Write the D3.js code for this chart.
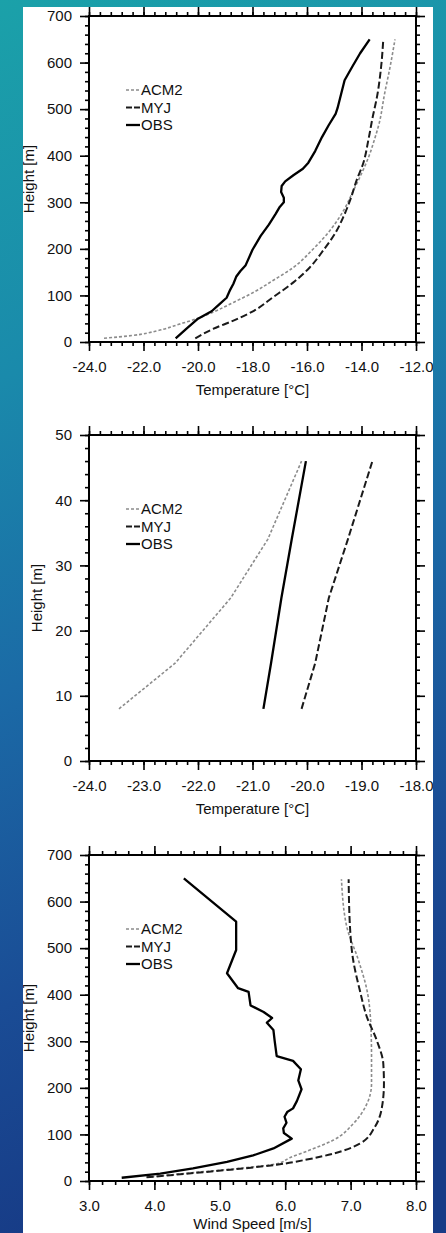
<!DOCTYPE html>
<html>
<head>
<meta charset="utf-8">
<script src="https://cdn.jsdelivr.net/npm/d3@7/dist/d3.min.js"></script>
<style>
    html, body { margin: 0; padding: 0; }
    body { width: 446px; height: 1233px; overflow: hidden; }
    svg text { font-family: "Liberation Sans", Arial, Helvetica, sans-serif; fill: #111; }
</style>
</head>
<body>
<div id="chart"></div>
<script>
// legend entries, same order in every panel
const seriesNames = ['ACM2', 'MYJ', 'OBS'];

// panel 1: temperature profile up to 700 m, [temperature °C, height m]
const tempAcm2 = [[-23.45, 8], [-22.4, 14], [-21.5, 24], [-20.7, 38], [-20.05, 50], [-19.45, 64],
    [-18.7, 85], [-17.95, 107], [-17.25, 132], [-16.5, 160], [-15.8, 198], [-15.15, 240],
    [-14.65, 283], [-14.3, 325], [-13.95, 368], [-13.72, 400], [-13.55, 430], [-13.35, 470],
    [-13.15, 534], [-12.95, 591], [-12.77, 650]];
const tempMyj = [[-20.1, 8], [-19.45, 28], [-18.7, 46], [-17.95, 67], [-17.25, 96], [-16.5, 128],
    [-15.9, 160], [-15.4, 197], [-14.97, 233], [-14.67, 268], [-14.42, 304], [-14.18, 347],
    [-13.93, 385], [-13.75, 433], [-13.6, 480], [-13.42, 530], [-13.28, 591], [-13.2, 650]];
const tempObs = [[-20.82, 8], [-20.4, 30], [-20.0, 50], [-19.5, 66], [-19.2, 82], [-18.95, 95],
    [-18.82, 112], [-18.7, 125], [-18.6, 140], [-18.45, 152], [-18.25, 165], [-18.0, 198],
    [-17.7, 228], [-17.4, 252], [-17.15, 275], [-17.0, 290], [-16.85, 300], [-16.85, 310],
    [-16.95, 322], [-16.93, 335], [-16.8, 345], [-16.5, 358], [-16.15, 372], [-15.95, 385],
    [-15.7, 410], [-15.45, 440], [-15.2, 466], [-14.95, 490], [-14.88, 502], [-14.75, 532],
    [-14.62, 562], [-14.35, 590], [-14.05, 620], [-13.7, 650]];

// panel 2: temperature in the lowest 50 m
const lowAcm2 = [[-23.45, 8], [-22.42, 15], [-21.4, 25], [-20.72, 34], [-20.1, 46]];
const lowMyj = [[-20.1, 8], [-19.85, 15], [-19.6, 25], [-19.25, 34], [-18.8, 46]];
const lowObs = [[-20.8, 8], [-20.66, 15], [-20.47, 25], [-20.28, 34], [-20.02, 46]];

// panel 3: wind speed profile, [m/s, height m]
const windAcm2 = [[3.88, 8], [4.6, 18], [5.36, 28], [5.87, 37], [6.07, 50], [6.35, 65], [6.74, 88],
    [7.04, 123], [7.25, 166], [7.32, 209], [7.32, 267], [7.31, 333], [7.25, 410], [7.12, 474],
    [6.94, 547], [6.86, 648]];
const windMyj = [[3.88, 8], [4.6, 17], [5.36, 27], [5.87, 35], [6.33, 46], [6.74, 59], [7.14, 80],
    [7.37, 116], [7.48, 159], [7.51, 209], [7.5, 252], [7.4, 302], [7.25, 352], [7.14, 410],
    [7.04, 474], [6.99, 547], [6.97, 648]];
const windObs = [[3.5, 7], [4.09, 16], [4.59, 27], [5.11, 41], [5.51, 55], [5.82, 70], [6.1, 91],
    [5.98, 103], [5.97, 113], [6.02, 125], [5.99, 138], [6.03, 148], [6.12, 156], [6.18, 172],
    [6.25, 197], [6.2, 216], [6.24, 240], [6.12, 258], [5.87, 268], [5.84, 300], [5.82, 324],
    [5.72, 340], [5.8, 350], [5.67, 363], [5.47, 377], [5.44, 406], [5.28, 414], [5.11, 446],
    [5.25, 496], [5.25, 557], [4.45, 650]];

// axis ticks
const tempTicks = [-24, -22, -20, -18, -16, -14, -12];
const lowTempTicks = [-24, -23, -22, -21, -20, -19, -18];
const windTicks = [3, 4, 5, 6, 7, 8];
const heightTicks = [0, 100, 200, 300, 400, 500, 600, 700];
const lowHeightTicks = [0, 10, 20, 30, 40, 50];

const W = 446, H = 1233;
const page = { left: 23, top: 7, right: 433 };
const box = { left: 89, right: 416, height: 326 };

const styles = {
    ACM2: { stroke: '#8c8c8c', width: 1.6, dash: '3,2' },
    MYJ: { stroke: '#1a1a1a', width: 2, dash: '7,3' },
    OBS: { stroke: '#000', width: 2.3, dash: null }
};

const svg = d3.select('#chart').append('svg')
    .attr('width', W)
    .attr('height', H);

const defs = svg.append('defs');
const grad = defs.append('linearGradient')
    .attr('id', 'bg')
    .attr('x1', 0).attr('y1', 0).attr('x2', 0.15).attr('y2', 1);
[['0', '#1ba1a9'], ['0.3', '#1a8aab'], ['0.55', '#1b6aa6'], ['0.8', '#1a4c95'], ['1', '#173b86']]
    .forEach(s => grad.append('stop').attr('offset', s[0]).attr('stop-color', s[1]));

defs.append('clipPath').attr('id', 'page')
    .append('rect')
    .attr('x', page.left).attr('y', page.top)
    .attr('width', page.right - page.left).attr('height', H - page.top);

svg.append('rect').attr('width', W).attr('height', H).attr('fill', 'url(#bg)');

const sheet = svg.append('g').attr('clip-path', 'url(#page)');
sheet.append('rect')
    .attr('x', page.left).attr('y', page.top)
    .attr('width', page.right - page.left).attr('height', H - page.top)
    .attr('fill', '#fff');

function minorTicks(domain, step) {
    const out = [];
    const n = Math.round((domain[1] - domain[0]) / step);
    for (let i = 0; i <= n; i++) out.push(domain[0] + i * step);
    return out;
}

function styleAxis(g) {
    g.select('.domain').remove();
    g.selectAll('.tick line').attr('stroke', '#000').attr('stroke-width', 1.6);
    g.selectAll('.tick text').attr('font-size', 15).attr('fill', '#111');
}

function drawPanel(opts) {
    const top = opts.top;
    const bottom = top + box.height;
    const x = d3.scaleLinear().domain(opts.xDomain).range([box.left, box.right]);
    const y = d3.scaleLinear().domain(opts.yDomain).range([bottom, top]);
    const fmt = d => d.toFixed(1);

    const g = sheet.append('g');

    // minor ticks on all four sides
    const xMinor = minorTicks(opts.xDomain, opts.xMinor);
    const yMinor = minorTicks(opts.yDomain, opts.yMinor);
    g.append('g').attr('transform', `translate(0,${bottom})`)
        .call(d3.axisBottom(x).tickValues(xMinor).tickSize(4).tickFormat('')).call(styleAxis);
    g.append('g').attr('transform', `translate(0,${top})`)
        .call(d3.axisTop(x).tickValues(xMinor).tickSize(4).tickFormat('')).call(styleAxis);
    g.append('g').attr('transform', `translate(${box.left},0)`)
        .call(d3.axisLeft(y).tickValues(yMinor).tickSize(4).tickFormat('')).call(styleAxis);
    g.append('g').attr('transform', `translate(${box.right},0)`)
        .call(d3.axisRight(y).tickValues(yMinor).tickSize(4).tickFormat('')).call(styleAxis);

    // major ticks and labels
    g.append('g').attr('transform', `translate(0,${bottom})`)
        .call(d3.axisBottom(x).tickValues(opts.xTicks).tickSize(9).tickPadding(10).tickFormat(fmt))
        .call(styleAxis);
    g.append('g').attr('transform', `translate(0,${top})`)
        .call(d3.axisTop(x).tickValues(opts.xTicks).tickSize(9).tickFormat(''))
        .call(styleAxis);
    g.append('g').attr('transform', `translate(${box.left},0)`)
        .call(d3.axisLeft(y).tickValues(opts.yTicks).tickSize(9).tickPadding(8))
        .call(styleAxis);
    g.append('g').attr('transform', `translate(${box.right},0)`)
        .call(d3.axisRight(y).tickValues(opts.yTicks).tickSize(9).tickFormat(''))
        .call(styleAxis);

    // frame
    g.append('rect')
        .attr('x', box.left).attr('y', top)
        .attr('width', box.right - box.left).attr('height', box.height)
        .attr('fill', 'none')
        .attr('stroke', '#000')
        .attr('stroke-width', 2);

    // axis titles
    g.append('text')
        .attr('x', (box.left + box.right) / 2)
        .attr('y', bottom + opts.titleGap)
        .attr('text-anchor', 'middle')
        .attr('font-size', 15)
        .text(opts.xTitle);

    g.append('text')
        .attr('transform', `translate(${opts.yTitleX},${(top + bottom) / 2}) rotate(-90)`)
        .attr('text-anchor', 'middle')
        .attr('dy', '0.36em')
        .attr('font-size', 15)
        .text('Height [m]');

    // profiles
    const line = d3.line()
        .x(d => x(d[0]))
        .y(d => y(d[1]))
        .curve(opts.curve);
    const modelLine = d3.line()
        .x(d => x(d[0]))
        .y(d => y(d[1]))
        .curve(opts.modelCurve);

    seriesNames.forEach((name, i) => {
        const s = styles[name];
        g.append('path')
            .datum(opts.data[i])
            .attr('fill', 'none')
            .attr('stroke', s.stroke)
            .attr('stroke-width', s.width)
            .attr('stroke-dasharray', s.dash)
            .attr('stroke-linejoin', 'round')
            .attr('d', name === 'OBS' ? line : modelLine);
    });

    // legend
    const legend = g.append('g').attr('transform', `translate(${box.left + 37},${top + 74})`);
    seriesNames.forEach((name, i) => {
        const s = styles[name];
        const row = legend.append('g').attr('transform', `translate(0,${i * 17.5})`);
        row.append('line')
            .attr('x1', 0).attr('x2', 14)
            .attr('stroke', s.stroke)
            .attr('stroke-width', s.width)
            .attr('stroke-dasharray', name === 'MYJ' ? '6,2' : s.dash);
        row.append('text')
            .attr('x', 15)
            .attr('dy', '0.36em')
            .attr('font-size', 15)
            .text(name);
    });
}

drawPanel({
    top: 16,
    xDomain: [-24, -12], xTicks: tempTicks, xMinor: 0.4,
    yDomain: [0, 700], yTicks: heightTicks, yMinor: 20,
    xTitle: 'Temperature [°C]', yTitleX: 29, titleGap: 53,
    curve: d3.curveLinear, modelCurve: d3.curveMonotoneY,
    data: [tempAcm2, tempMyj, tempObs]
});

drawPanel({
    top: 435,
    xDomain: [-24, -18], xTicks: lowTempTicks, xMinor: 0.2,
    yDomain: [0, 50], yTicks: lowHeightTicks, yMinor: 2,
    xTitle: 'Temperature [°C]', yTitleX: 37, titleGap: 53,
    curve: d3.curveLinear, modelCurve: d3.curveLinear,
    data: [lowAcm2, lowMyj, lowObs]
});

drawPanel({
    top: 855,
    xDomain: [3, 8], xTicks: windTicks, xMinor: 0.2,
    yDomain: [0, 700], yTicks: heightTicks, yMinor: 20,
    xTitle: 'Wind Speed [m/s]', yTitleX: 29, titleGap: 48,
    curve: d3.curveLinear, modelCurve: d3.curveMonotoneY,
    data: [windAcm2, windMyj, windObs]
});
</script>
</body>
</html>
